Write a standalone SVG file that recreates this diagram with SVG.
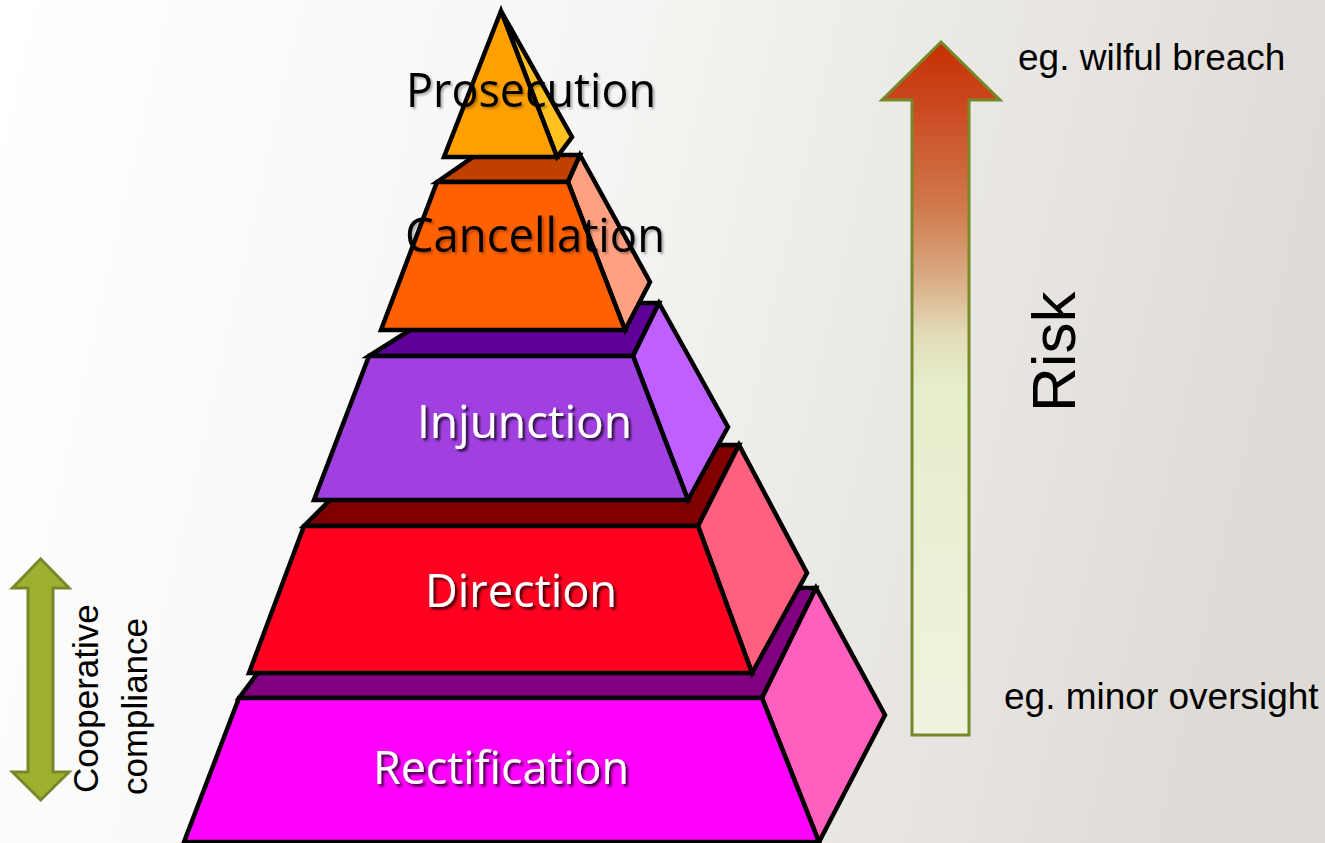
<svg xmlns="http://www.w3.org/2000/svg" width="1325" height="843" viewBox="0 0 1325 843">
<defs>
<linearGradient id="bg" x1="0" y1="0" x2="1325" y2="300" gradientUnits="userSpaceOnUse">
<stop offset="0" stop-color="#ffffff"/>
<stop offset="0.45" stop-color="#f5f5f3"/>
<stop offset="1" stop-color="#dedad6"/>
</linearGradient>
<linearGradient id="risk" x1="0" y1="40" x2="0" y2="735" gradientUnits="userSpaceOnUse">
<stop offset="0" stop-color="#c62e00"/>
<stop offset="0.1" stop-color="#cb4a22"/>
<stop offset="0.24" stop-color="#d07a4c"/>
<stop offset="0.34" stop-color="#d9aa84"/>
<stop offset="0.42" stop-color="#e2dab6"/>
<stop offset="0.5" stop-color="#e6eecc"/>
<stop offset="1" stop-color="#eff3df"/>
</linearGradient>
<filter id="sh" x="-10%" y="-20%" width="130%" height="150%">
<feDropShadow dx="2.5" dy="2.5" stdDeviation="1.2" flood-color="#000" flood-opacity="0.75"/>
</filter>
<filter id="shl" x="-10%" y="-20%" width="130%" height="150%">
<feDropShadow dx="2" dy="2" stdDeviation="1.2" flood-color="#000" flood-opacity="0.3"/>
</filter>
</defs>
<style>
.edge{stroke:#000;stroke-width:4.5;stroke-linejoin:miter;stroke-miterlimit:10}
.lbl{font-family:"Open Sans","Noto Sans","DejaVu Sans",sans-serif;fill:#fff;filter:url(#sh)}
.lblk{font-family:"Open Sans","Noto Sans","DejaVu Sans",sans-serif;fill:#000;filter:url(#shl)}
.note{font-family:"Liberation Sans",Arial,sans-serif;fill:#000}
.arr{stroke:#76892a;stroke-width:3;stroke-linejoin:miter}
</style>
<rect x="0" y="0" width="1325" height="843" fill="url(#bg)"/>

<g id="rectification">
<polygon class="edge" points="239,698 321,588 816,588 762,698" fill="#800080"/>
<polygon class="edge" points="762,698 816,588 885,715 819,842" fill="#ff60c0"/>
<polygon class="edge" points="239,698 762,698 819,842 184,842" fill="#ff00ff"/>
<text class="lbl" x="373" y="784" font-size="45" textLength="256" lengthAdjust="spacingAndGlyphs">Rectification</text>
</g>

<g id="direction">
<polygon class="edge" points="304,526 385,445 739,445 698,526" fill="#800000"/>
<polygon class="edge" points="698,526 739,445 807,573 752,673" fill="#ff6080"/>
<polygon class="edge" points="304,526 698,526 752,673 249,673" fill="#ff0020"/>
<text class="lbl" x="425" y="607" font-size="46" textLength="192" lengthAdjust="spacingAndGlyphs">Direction</text>
</g>

<g id="injunction">
<polygon class="edge" points="369,356 453,303 659,303 633,356" fill="#5f0099"/>
<polygon class="edge" points="633,356 659,303 728,427 688,500" fill="#bf5fff"/>
<polygon class="edge" points="369,356 633,356 688,500 314,500" fill="#a040e0"/>
<text class="lbl" x="417" y="438" font-size="45" textLength="215" lengthAdjust="spacingAndGlyphs">Injunction</text>
</g>

<g id="cancellation">
<polygon class="edge" points="437,182 476,155 580,155 568,182" fill="#c04000"/>
<polygon class="edge" points="568,182 580,155 650,282 625,330" fill="#ffa080"/>
<polygon class="edge" points="437,182 568,182 625,330 381,330" fill="#ff6000"/>
<text class="lblk" x="405" y="252" font-size="47" textLength="260" lengthAdjust="spacingAndGlyphs">Cancellation</text>
</g>

<g id="prosecution">
<polygon class="edge" points="501,11 572,137 557,157" fill="#ffc020"/>
<polygon class="edge" points="501,11 557,157 444,157" fill="#ffa000"/>
<text class="lblk" x="406" y="107" font-size="48" textLength="250" lengthAdjust="spacingAndGlyphs">Prosecution</text>
</g>

<g id="cooperative-compliance">
<path class="arr" d="M40.7,559 L69,588 L53,588 L53,772 L69,772 L40.7,800 L12.5,772 L28,772 L28,588 L12.5,588 Z" fill="#9fb030"/>
<text class="note" font-size="35" transform="translate(98,793) rotate(-90)">Cooperative</text>
<text class="note" font-size="35" transform="translate(147,795) rotate(-90)">compliance</text>
</g>

<g id="risk-arrow">
<path class="arr" d="M941,42 L1000,100 L969,100 L969,735 L912,735 L912,100 L882,100 Z" fill="url(#risk)"/>
<text class="note" font-size="62" transform="translate(1075,412) rotate(-90)">Risk</text>
<text class="note" x="1018" y="70" font-size="37">eg. wilful breach</text>
<text class="note" x="1004" y="709" font-size="37">eg. minor oversight</text>
</g>

<g id="connectors"></g>
</svg>
